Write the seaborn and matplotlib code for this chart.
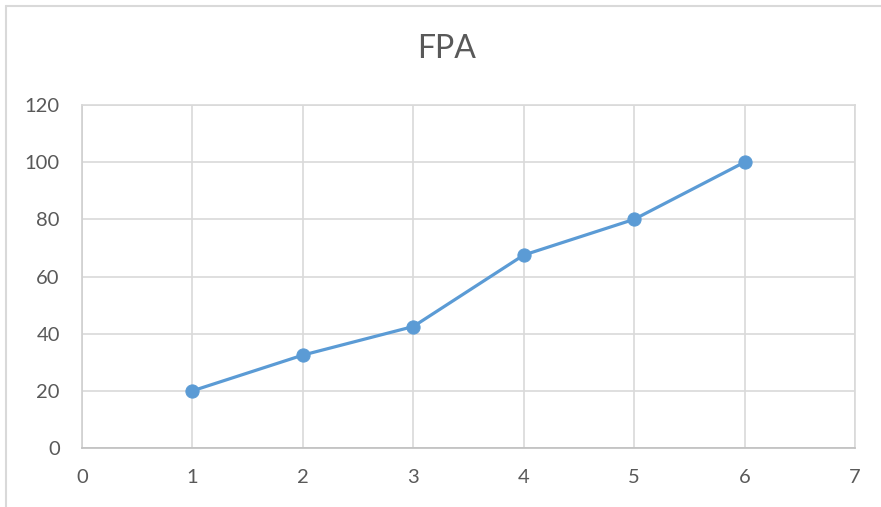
import matplotlib
matplotlib.use("Agg")
import matplotlib.pyplot as plt
import seaborn as sns
import pandas as pd
from matplotlib.lines import Line2D

# Data
x_vals = [1, 2, 3, 4, 5, 6]
fpa_vals = [20, 32.5, 42.5, 67.5, 80, 100]
title = "FPA"

df = pd.DataFrame({"x": x_vals, "FPA": fpa_vals})

sns.set_theme(style="whitegrid")
plt.rcParams["font.family"] = ["Lato", "DejaVu Sans"]

text_col = "#595959"
grid_col = "#D9D9D9"
line_col = "#5B9BD5"

fig = plt.figure(figsize=(8.81, 5.07), dpi=100)
ax = fig.add_axes([82 / 881, 1 - 448 / 507, (855 - 82) / 881, (448 - 105) / 507])

sns.lineplot(data=df, x="x", y="FPA", ax=ax, color=line_col, linewidth=2.3,
             marker="o", markersize=9.5, markeredgecolor=line_col, markerfacecolor=line_col)

ax.set_xlim(0, 7)
ax.set_ylim(0, 120)
ax.set_xticks(range(0, 8))
ax.set_yticks(range(0, 121, 20))
ax.set_xlabel("")
ax.set_ylabel("")

ax.grid(True, color=grid_col, linewidth=1.2)
for side, sp in ax.spines.items():
    sp.set_visible(True)
    sp.set_color(grid_col)
    sp.set_linewidth(1.2)
ax.spines["bottom"].set_color("#BFBFBF")
ax.spines["left"].set_color("#D0D0D0")

ax.tick_params(axis="both", length=0, labelsize=14.5, labelcolor=text_col)
ax.tick_params(axis="y", pad=16)
ax.tick_params(axis="x", pad=15)

fig.text(447 / 881, 1 - 49 / 507, title, ha="center", va="center",
         fontsize=23, color=text_col)

# chart-area border (only left and top edges are visible in the crop)
fig.add_artist(Line2D([6 / 881, 6 / 881], [0, 1 - 6 / 507], transform=fig.transFigure,
                      color="#D9D9D9", linewidth=1.5))
fig.add_artist(Line2D([6 / 881, 1], [1 - 6 / 507, 1 - 6 / 507], transform=fig.transFigure,
                      color="#D9D9D9", linewidth=1.5))

fig.savefig("out.png", dpi=100, facecolor="white")
